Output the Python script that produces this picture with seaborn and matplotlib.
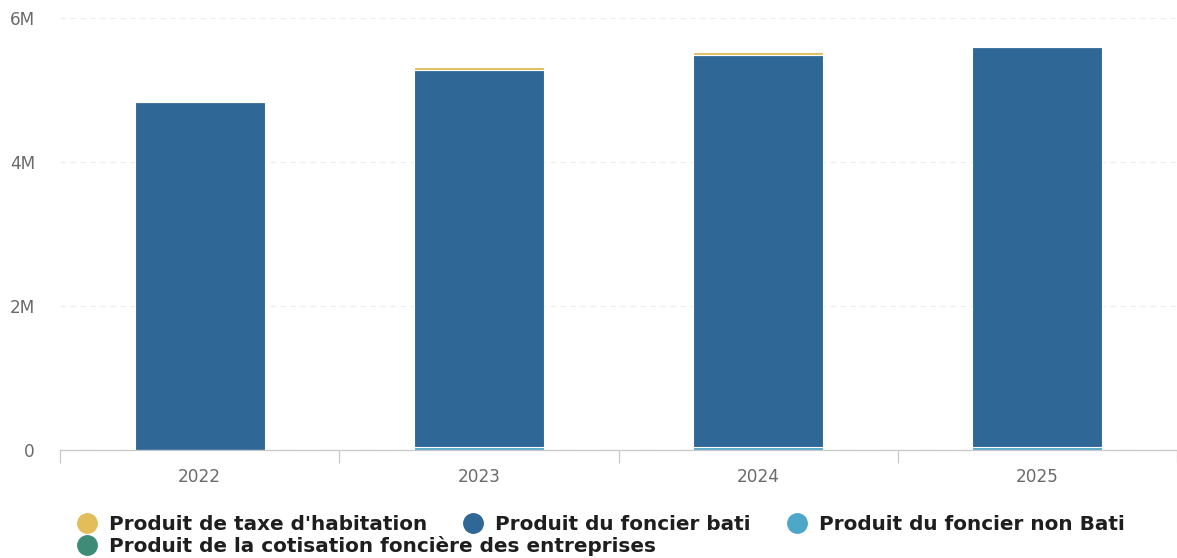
import matplotlib
matplotlib.use("Agg")
import matplotlib.pyplot as plt
from matplotlib.lines import Line2D
from matplotlib.ticker import FuncFormatter, FixedLocator
from matplotlib.font_manager import FontProperties
import seaborn as sns
import pandas as pd
import numpy as np

# Tax revenue by year (euros)
years = ["2022", "2023", "2024", "2025"]
taxe_habitation = [0, 40_000, 40_000, 0]
foncier_bati = [4_830_000, 5_240_000, 5_450_000, 5_560_000]
foncier_non_bati = [0, 40_000, 40_000, 40_000]
cotisation_fonciere = [0, 0, 0, 0]

series_names = [
    "Produit de taxe d'habitation",
    "Produit du foncier bati",
    "Produit du foncier non Bati",
    "Produit de la cotisation foncière des entreprises",
]
series_colors = {
    series_names[0]: "#e2bd5a",
    series_names[1]: "#2f6796",
    series_names[2]: "#4ca7c9",
    series_names[3]: "#3e8c78",
}

df = pd.DataFrame({
    "year": years,
    series_names[0]: taxe_habitation,
    series_names[1]: foncier_bati,
    series_names[2]: foncier_non_bati,
    series_names[3]: cotisation_fonciere,
})

sns.set_theme(style="white")
plt.rcParams["font.family"] = ["DejaVu Sans"]

fig = plt.figure(figsize=(11.77, 5.58), dpi=100)
ax = fig.add_axes([60 / 1177, 108 / 558, 1.0 - 60 / 1177, 432 / 558])

# Stack from the bottom: CFE, non bâti, bâti, taxe d'habitation
stack_order = [series_names[3], series_names[2], series_names[1], series_names[0]]
bottom = np.zeros(len(years))
for name in stack_order:
    sns.barplot(data=df, x="year", y=name, color=series_colors[name],
                bottom=bottom, width=0.466, ax=ax, saturation=1,
                edgecolor="white", linewidth=0.8)
    bottom = bottom + df[name].to_numpy()

ax.set_xlim(-0.5, 3.475)
ax.set_ylim(0, 6_000_000)
ax.set_xlabel("")
ax.set_ylabel("")

ax.yaxis.set_major_locator(FixedLocator([0, 2e6, 4e6, 6e6]))
ax.yaxis.set_major_formatter(FuncFormatter(lambda v, p: "0" if v == 0 else f"{v/1e6:.0f}M"))
ax.yaxis.grid(True, color="#ececec", linestyle=(0, (5, 4)), linewidth=0.8)
ax.set_axisbelow(True)

for side in ["top", "right", "left"]:
    ax.spines[side].set_visible(False)
ax.spines["bottom"].set_color("#c8c8c8")
ax.spines["bottom"].set_linewidth(0.9)

ax.tick_params(axis="y", length=0, pad=18, labelsize=12.2, labelcolor="#6a6a6a")
ax.tick_params(axis="x", which="major", length=0, pad=13, labelsize=12.2, labelcolor="#6a6a6a")
ax.set_xticks([-0.5, 0.5, 1.5, 2.5, 3.5], minor=True)
ax.tick_params(axis="x", which="minor", bottom=True, length=9, color="#c8c8c8", width=0.9)

def handle(name):
    return Line2D([0], [0], marker="o", linestyle="", markersize=14,
                  markerfacecolor=series_colors[name], markeredgecolor=series_colors[name])

legend_font = FontProperties(family="DejaVu Sans", weight="bold", size=14.4)
legend_kw = dict(frameon=False, handletextpad=0.6, borderaxespad=0,
                 prop=legend_font, labelcolor="#1e1e1e",
                 handlelength=1.0, loc="upper left", labelspacing=0.2)
fig.legend([handle(n) for n in series_names[:3]], series_names[:3], ncol=3,
           columnspacing=1.8, bbox_to_anchor=(69 / 1177, 1 - 507 / 558), **legend_kw)
fig.legend([handle(series_names[3])], [series_names[3]], ncol=1,
           bbox_to_anchor=(69 / 1177, 1 - 528 / 558), **legend_kw)

fig.savefig("out.png", dpi=100)
